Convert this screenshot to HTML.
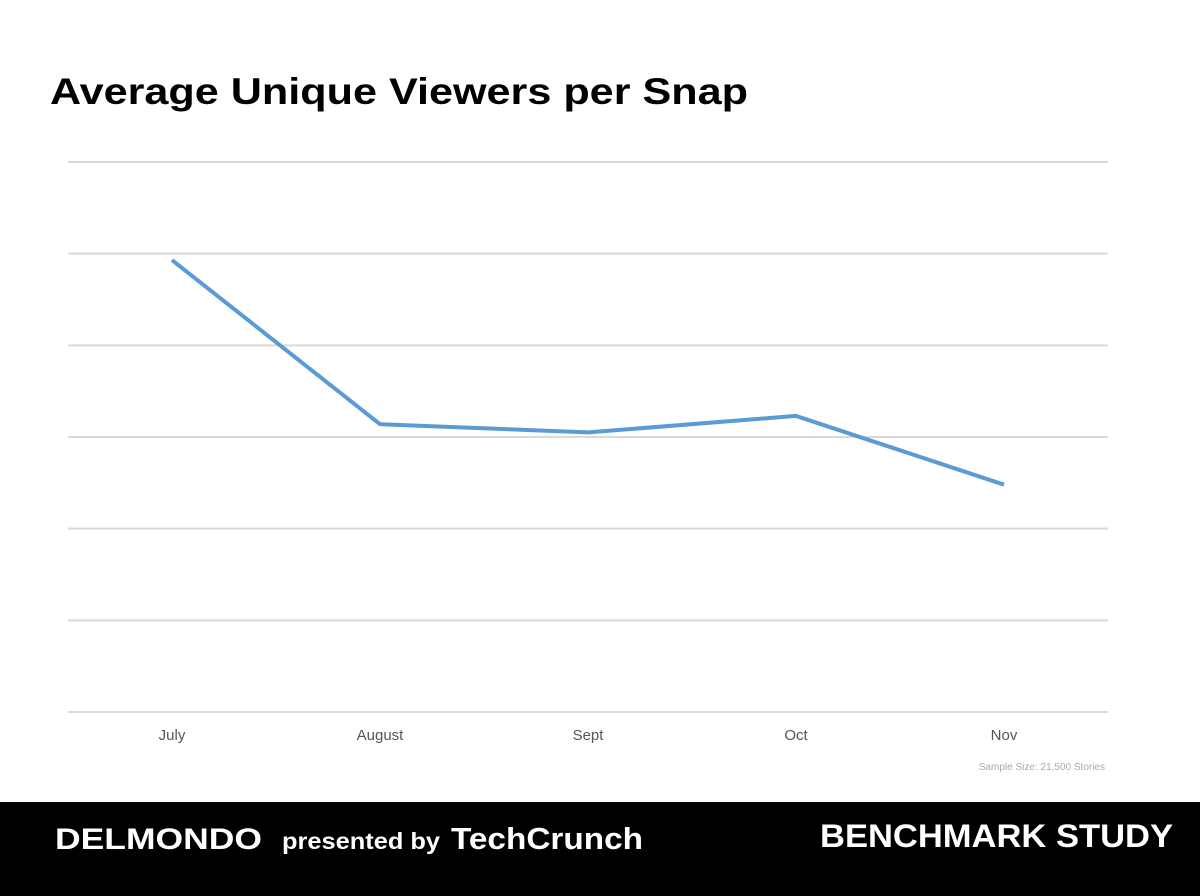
<!DOCTYPE html>
<html><head><meta charset="utf-8"><style>
body{margin:0;width:1200px;height:896px;background:#fff;overflow:hidden;font-family:"Liberation Sans",sans-serif}
svg{position:absolute;left:0;top:0}
</style></head><body>
<svg width="1200" height="896">
<text x="50" y="104" font-size="37" font-weight="bold" fill="#000" textLength="698" lengthAdjust="spacingAndGlyphs">Average Unique Viewers per Snap</text>
<g id="grid"></g>
<g id="xlabels"></g>
<polyline id="line" fill="none" stroke="#5b9bd5" stroke-width="4" stroke-linejoin="round"/>
<text x="1105" y="770" font-size="10" fill="#aaa" text-anchor="end">Sample Size: 21,500 Stories</text>
<rect x="0" y="802" width="1200" height="94" fill="#000"/>
<text x="55" y="849" font-size="30" font-weight="bold" fill="#fff" textLength="207" lengthAdjust="spacingAndGlyphs">DELMONDO</text>
<text x="282" y="849" font-size="23" font-weight="bold" fill="#fff" textLength="158" lengthAdjust="spacingAndGlyphs">presented by</text>
<text x="451" y="849" font-size="31" font-weight="bold" fill="#fff" textLength="192" lengthAdjust="spacingAndGlyphs">TechCrunch</text>
<text x="820" y="847" font-size="32" font-weight="bold" fill="#fff" textLength="353" lengthAdjust="spacingAndGlyphs">BENCHMARK STUDY</text>
</svg>
<script>
const categories=["July","August","Sept","Oct","Nov"];
const values=[4.93,3.14,3.05,3.23,2.48];
const gridTicks=[0,1,2,3,4,5,6];
const x0=68,x1=1108,yTop=162,yBot=712,yMax=6;
const band=(x1-x0)/categories.length;
const xs=i=>x0+band*(i+0.5);
const ys=v=>yBot-(v/yMax)*(yBot-yTop);
const NS="http://www.w3.org/2000/svg";
const grid=document.getElementById('grid');
gridTicks.forEach(t=>{
  const l=document.createElementNS(NS,'line');
  l.setAttribute('x1',x0);l.setAttribute('x2',x1);
  l.setAttribute('y1',ys(t));l.setAttribute('y2',ys(t));
  l.setAttribute('stroke','#d9d9d9');l.setAttribute('stroke-width','2');
  
  
  grid.appendChild(l);
});
const xl=document.getElementById('xlabels');
categories.forEach((c,i)=>{
  const t=document.createElementNS(NS,'text');
  t.setAttribute('x',xs(i));t.setAttribute('y',740);
  t.setAttribute('text-anchor','middle');t.setAttribute('font-size','15');t.setAttribute('fill','#555');
  t.textContent=c;
  
  
  xl.appendChild(t);
});
document.getElementById('line').setAttribute('points',values.map((v,i)=>xs(i)+','+ys(v)).join(' '));
</script>
</body></html>
